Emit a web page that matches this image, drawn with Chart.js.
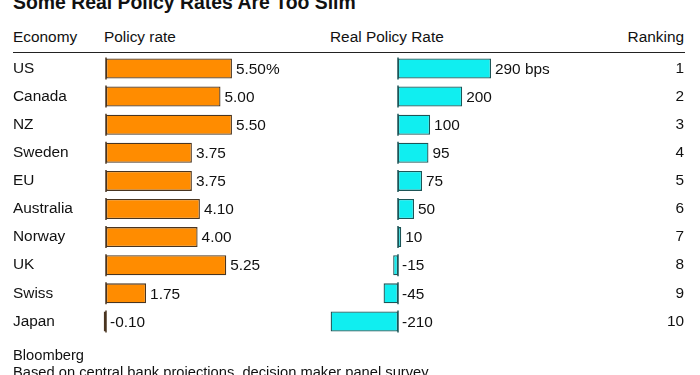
<!DOCTYPE html>
<html>
<head>
<meta charset="utf-8">
<script src="https://cdn.jsdelivr.net/npm/chart.js@4"></script>
<style>
body { margin:0; background:#fff; font-family:"Liberation Sans", Arial, sans-serif; color:#111; }
#wrap { position:relative; width:700px; height:375px; overflow:hidden; }
.t { position:absolute; white-space:nowrap; font-size:15.4px; line-height:17px; }
.f { font-size:14.7px; }
#title { left:13px; top:-9px; font-size:19.4px; font-weight:bold; line-height:23px; }
#rule { position:absolute; left:13px; top:52px; width:672px; height:1px; background:#222; }
canvas { position:absolute; left:0; top:0; }
</style>
</head>
<body>
<div id="wrap">
  <div id="title" class="t">Some Real Policy Rates Are Too Slim</div>
  <div class="t" style="left:13px;top:28px">Economy</div>
  <div class="t" style="left:104px;top:28px">Policy rate</div>
  <div class="t" style="left:330px;top:28px">Real Policy Rate</div>
  <div class="t" style="right:16px;top:28px">Ranking</div>
  <div id="rule"></div>
  <canvas id="myChart" width="700" height="375"></canvas>
  <div class="t f" style="left:13px;top:347px">Bloomberg</div>
  <div class="t f" style="left:13px;top:364px">Based on central bank projections, decision maker panel survey</div>
</div>
<script>
var economies = ["US", "Canada", "NZ", "Sweden", "EU", "Australia", "Norway", "UK", "Swiss", "Japan"];
var policyRate = [5.50, 5.00, 5.50, 3.75, 3.75, 4.10, 4.00, 5.25, 1.75, -0.10];
var realRate = [290, 200, 100, 95, 75, 50, 10, -15, -45, -210];
var ranking = [1, 2, 3, 4, 5, 6, 7, 8, 9, 10];

// plot area spans x 96..600; each column gets its own hidden x scale
var areaLeft = 96, areaRight = 600, areaW = areaRight - areaLeft;
function range(zeroPx, pxPerUnit) {
  var min = -(zeroPx - areaLeft) / pxPerUnit;
  return { min: min, max: min + areaW / pxPerUnit };
}
var r1 = range(106, 22.9);
var r2 = range(398, 0.3207);
var fontFam = '"Liberation Sans", Arial, sans-serif';

var labelPlugin = {
  id: 'valueLabels',
  afterDatasetsDraw: function(chart) {
    var ctx = chart.ctx;
    ctx.save();
    chart.data.datasets.forEach(function(ds, di) {
      var meta = chart.getDatasetMeta(di);
      meta.data.forEach(function(bar, i) {
        var h = bar.height;
        // zero line
        ctx.strokeStyle = ds.borderColor;
        ctx.lineWidth = 1.5;
        ctx.beginPath();
        ctx.moveTo(bar.base, bar.y - h / 2 - 1);
        ctx.lineTo(bar.base, bar.y + h / 2 + 1);
        ctx.stroke();
        // value text
        var v = ds.data[i];
        var txt;
        if (di == 0) txt = v.toFixed(2) + (i == 0 ? "%" : "");
        else txt = v + (i == 0 ? " bps" : "");
        ctx.fillStyle = "#111";
        ctx.font = '15.4px ' + fontFam;
        ctx.textAlign = "left";
        ctx.textBaseline = "middle";
        ctx.fillText(txt, Math.max(bar.x, bar.base) + 4, bar.y + 1);
      });
    });
    ctx.restore();
  }
};

new Chart("myChart", {
  type: "bar",
  data: {
    labels: economies,
    datasets: [{
      data: policyRate,
      xAxisID: "x1",
      backgroundColor: "#ff8c00",
      borderColor: "#4a3520",
      borderWidth: 1.3,
      borderSkipped: false
    }, {
      data: realRate,
      xAxisID: "x2",
      backgroundColor: "#10eef0",
      borderColor: "#1d5557",
      borderWidth: 1.3,
      borderSkipped: false
    }]
  },
  options: {
    indexAxis: "y",
    responsive: false,
    animation: false,
    layout: { padding: { left: 13, right: 16, top: 54.4, bottom: 39.5 } },
    datasets: { bar: { grouped: false, categoryPercentage: 1, barPercentage: 0.712 } },
    plugins: { legend: { display: false }, tooltip: { enabled: false } },
    scales: {
      x1: { type: "linear", axis: "x", display: false, min: r1.min, max: r1.max },
      x2: { type: "linear", axis: "x", display: false, min: r2.min, max: r2.max },
      y: {
        position: "left", offset: true,
        grid: { display: false }, border: { display: false },
        ticks: { crossAlign: "far", autoSkip: false, color: "#111",
                 font: { family: fontFam, size: 15.4 } },
        afterFit: function(s) { s.width = areaLeft - 13; }
      },
      yR: {
        type: "category", position: "right", offset: true,
        labels: ranking.map(String),
        grid: { display: false }, border: { display: false },
        ticks: { crossAlign: "far", autoSkip: false, color: "#111",
                 font: { family: fontFam, size: 15.4 } },
        afterFit: function(s) { s.width = 700 - 16 - areaRight; }
      }
    }
  },
  plugins: [labelPlugin]
});
</script>
</body>
</html>
